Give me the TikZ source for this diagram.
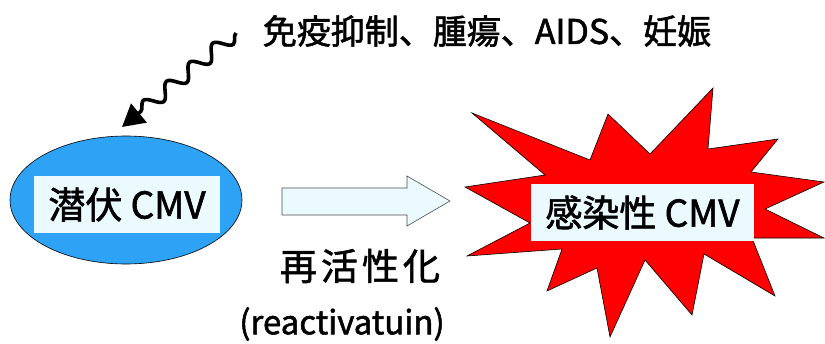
\documentclass[tikz,border=0pt]{standalone}
\usepackage{fontspec}
\setmainfont{Noto Sans CJK JP}
\newfontfamily\jpheavy{Noto Sans CJK JP}[FakeBold=1.6]
\usetikzlibrary{decorations.pathmorphing,arrows.meta,shapes.geometric}
\definecolor{boxfill}{HTML}{EAFAFF}
\definecolor{ellblue}{HTML}{2EA2F5}
\definecolor{burstred}{HTML}{FF0000}
\begin{document}
\begin{tikzpicture}[x=1pt,y=-1pt,
  labelbox/.style={fill=boxfill, inner sep=0pt, text=black},
  bigtext/.style={font=\jpheavy\fontsize{37}{42}\selectfont},
  outline/.style={draw=black, line width=0.6pt}]
\useasboundingbox (0,0) rectangle (825,343);

% latent CMV
\node[ellipse, outline, fill=ellblue, minimum width=232pt, minimum height=128pt, inner sep=0pt] (latent) at (126,200) {};
\node[labelbox, bigtext, minimum width=186pt, minimum height=57pt] (latentlbl) at (127,204.5) {潜伏 CMV};

% burst
\draw[outline, fill=burstred]
  (472,113) -- (590,160) -- (608,114) -- (650,154) -- (713,88) -- (708,149)
  -- (778,139) -- (751,172) -- (824,182) -- (765,209) -- (824,238) -- (752,238)
  -- (775,296) -- (704,254) -- (692,315) -- (645,260) -- (610,337) -- (597,268)
  -- (547,291) -- (562,249) -- (467,256) -- (530,223) -- (465,187) -- (545,175) -- cycle;
\node[labelbox, bigtext, minimum width=223pt, minimum height=57pt] (active) at (642.5,212.5) {感染性 CMV};

% block arrow
\coordinate (ba1) at (282,188);
\draw[draw=black!70, line width=0.6pt, fill=boxfill]
  (ba1) -- (407,188) -- (407,176) -- (450,201) -- (407,226) -- (407,215) -- (282,215) -- cycle;

% labels
\node (react) at (360,266) {\jpheavy\fontsize{37}{42}\selectfont 再\hspace{4pt}活\hspace{4pt}性\hspace{4pt}化};
\node (reactlat) at (342,324) {\jpheavy\fontsize{33}{38}\selectfont (reactivatuin)};
\node (cause) at (487,31) {\jpheavy\fontsize{34}{40}\selectfont 免疫抑制、腫瘍、AIDS、妊娠};

% wavy arrow
\coordinate (wstart) at (236,33);
\coordinate (wend) at (122,127);
\draw[line width=3.6pt, -{Triangle[length=22pt,width=24pt]},
  decorate, decoration={snake, amplitude=7pt, segment length=30pt, post length=20pt}]
  (wstart) -- (wend);
\end{tikzpicture}
\end{document}
